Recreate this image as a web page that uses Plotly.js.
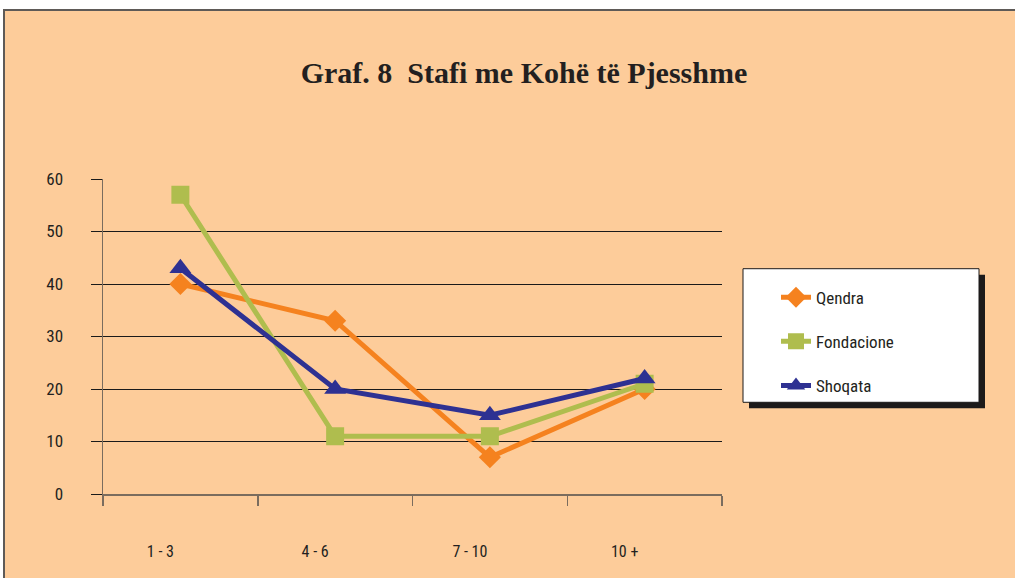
<!DOCTYPE html>
<html>
<head>
<meta charset="utf-8">
<script src="https://cdn.plot.ly/plotly-3.0.1.min.js"></script>
<style>
html,body{margin:0;padding:0;background:#ffffff;width:1015px;height:578px;overflow:hidden;}
#frame{position:absolute;left:3px;top:9px;border-left:2px solid #5e5a57;border-top:2px solid #5e5a57;width:1010px;height:567px;background:#FDCC9A;}
#chart{width:1010px;height:567px;}
</style>
</head>
<body>
<div id="frame"><div id="chart"></div></div>
<script>
const categories = ["1 - 3", "4 - 6", "7 - 10", "10 +"];
const qendra = [40, 33, 7, 20];
const fondacione = [57, 11, 11, 21];
const shoqata = [43, 20, 15, 22];
const yTicks = [0, 10, 20, 30, 40, 50, 60];

const bg = "#FDCC9A";
const textCol = "#231f20";
const axisCol = "#7a6c5e";
const labelFont = "Roboto Condensed, Liberation Sans, Arial, sans-serif";

const traces = [
  {name: "Qendra", x: categories, y: qendra, type: "scatter", mode: "lines+markers",
   line: {color: "#F5821F", width: 5}, marker: {symbol: "diamond", size: 17, color: "#F5821F"},
   legendgroup: "a"},
  {name: "Fondacione", x: categories, y: fondacione, type: "scatter", mode: "lines+markers",
   line: {color: "#AFBD4E", width: 5}, marker: {symbol: "square", size: 18, color: "#AFBD4E"},
   legendgroup: "b"},
  {name: "Shoqata", x: categories, y: shoqata, type: "scatter", mode: "lines+markers",
   line: {color: "#2E3192", width: 5}, marker: {symbol: "triangle-up", size: 19, color: "#2E3192"},
   legendgroup: "c"}
];

const px = v => (v - 103) / 619;
const py = v => (495 - v) / 316;

const layout = {
  width: 1010, height: 567,
  margin: {l: 98, r: 293, t: 168, b: 84, pad: 0},
  paper_bgcolor: bg, plot_bgcolor: bg,
  font: {family: labelFont, size: 17, color: textCol},
  title: {
    text: "Graf. 8&nbsp;&nbsp;Stafi me Kohë të Pjesshme",
    font: {family: "Liberation Serif, Times New Roman, serif", size: 30, color: textCol, weight: "bold"},
    xref: "paper", x: px(524), xanchor: "center",
    yref: "container", y: (567 - (72 - 11)) / 567, yanchor: "middle"
  },
  xaxis: {
    type: "category", range: [-0.5, 3.5],
    tickson: "boundaries", ticks: "outside", ticklen: 10, tickcolor: axisCol, tickwidth: 1.5,
    showline: true, linecolor: axisCol, linewidth: 1.5,
    showgrid: false, zeroline: false,
    tickfont: {family: labelFont, size: 16, color: textCol},
    ticklabelstandoff: 42, ticklabelshift: -20, fixedrange: true
  },
  yaxis: {
    range: [0, 60], tickvals: yTicks, ticktext: yTicks.map(String),
    ticks: "outside", ticklen: 11, tickcolor: "#1a1a1a", tickwidth: 1,
    showgrid: true, gridcolor: "#1a1a1a", gridwidth: 1,
    showline: true, linecolor: axisCol, linewidth: 1.5,
    tickfont: {family: labelFont, size: 17, color: textCol},
    zeroline: false, ticklabelstandoff: 24, fixedrange: true
  },
  showlegend: true,
  legend: {
    x: px(776), xanchor: "left", y: py(280), yanchor: "top",
    bgcolor: "rgba(0,0,0,0)", borderwidth: 0,
    tracegroupgap: 19,
    font: {size: 17, color: textCol, family: labelFont}
  },
  shapes: [
    {type: "rect", xref: "paper", yref: "paper", x0: px(749), x1: px(985), y0: py(409), y1: py(275),
     fillcolor: "#1c1a1a", line: {width: 0}, layer: "above"},
    {type: "rect", xref: "paper", yref: "paper", x0: px(743), x1: px(979), y0: py(403), y1: py(269),
     fillcolor: "#ffffff", line: {width: 1, color: "#1c1a1a"}, layer: "above"}
  ]
};

Plotly.newPlot("chart", traces, layout, {displayModeBar: false, staticPlot: true});
</script>
</body>
</html>
